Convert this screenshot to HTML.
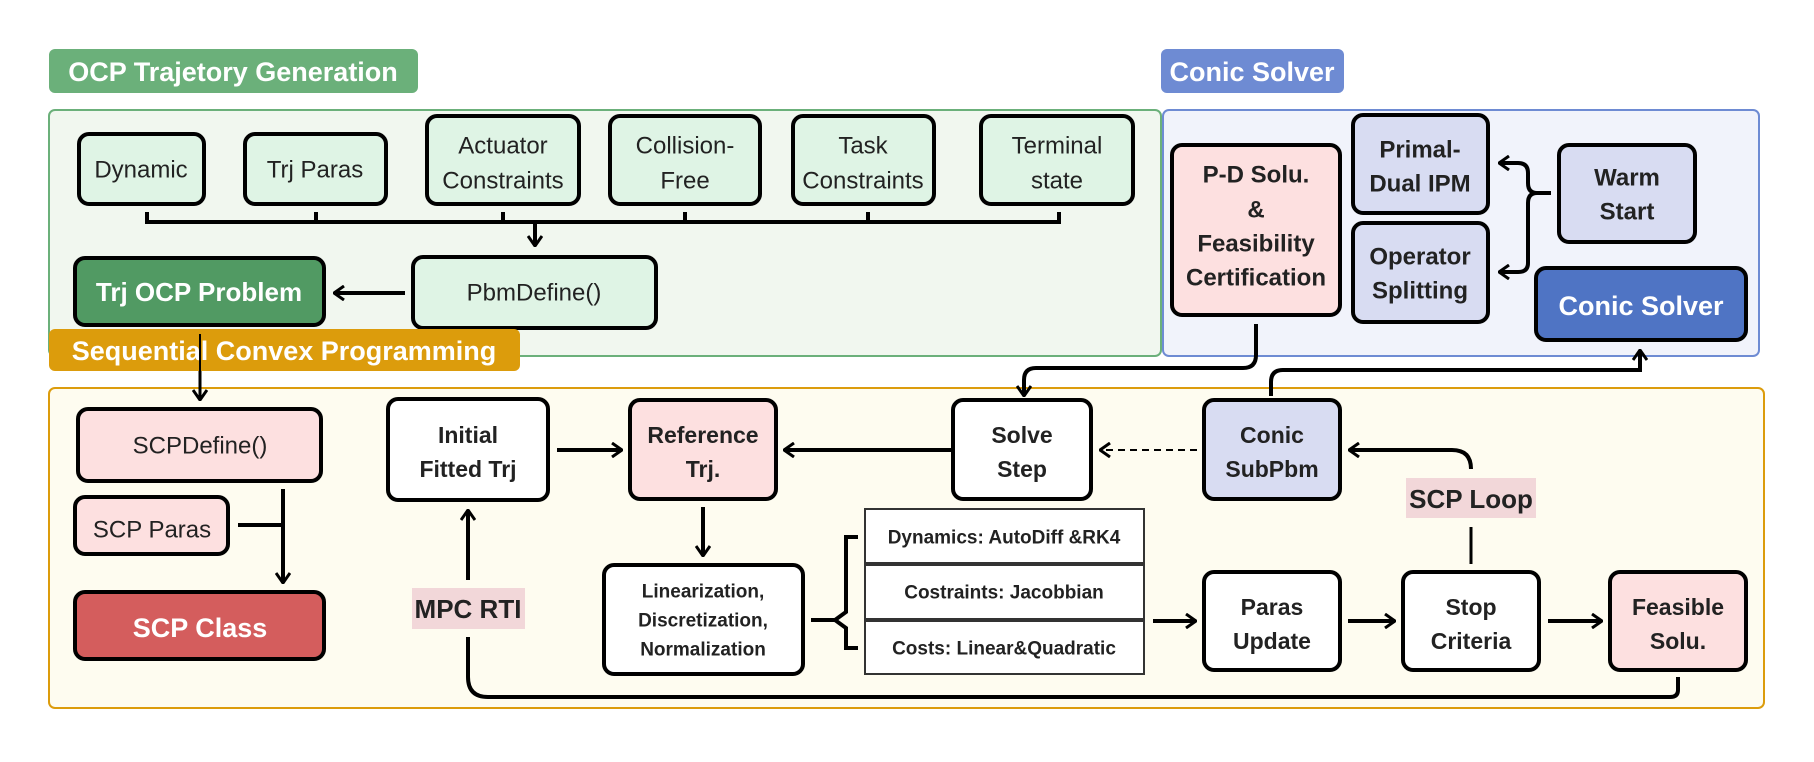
<!DOCTYPE html>
<html><head><meta charset="utf-8"><style>
html,body{margin:0;padding:0;background:#fff}
svg{display:block}
text{font-family:"Liberation Sans Narrow","Liberation Sans",sans-serif;fill:#222;text-anchor:middle;dominant-baseline:central}
.b{font-weight:bold}
</style></head><body>
<svg width="1814" height="762" viewBox="0 0 1814 762" xmlns="http://www.w3.org/2000/svg">
<defs>
<marker id="a" viewBox="0 0 12 16" refX="11" refY="8" markerWidth="12" markerHeight="16" markerUnits="userSpaceOnUse" orient="auto"><path d="M1,1 L11,8 L1,15" fill="none" stroke="#000" stroke-width="3"/></marker>
</defs>
<!-- panels -->
<rect x="49" y="110" width="1112" height="246" rx="6" fill="#f1f7ef" stroke="#6bb07a" stroke-width="2"/>
<rect x="1163" y="110" width="596" height="246" rx="6" fill="#f1f3fb" stroke="#6e8bd3" stroke-width="2"/>
<rect x="49" y="388" width="1715" height="320" rx="6" fill="#fefcf0" stroke="#dc9c0c" stroke-width="2"/>
<!-- tags -->
<rect x="49" y="49" width="369" height="44" rx="6" fill="#6bb07a"/>
<text x="233" y="72" class="b" font-size="27" fill="#fff" style="fill:#fff">OCP Trajetory Generation</text>
<rect x="1161" y="49" width="183" height="44" rx="6" fill="#6e8bd3"/>
<text x="1252" y="72" class="b" font-size="27" style="fill:#fff">Conic Solver</text>

<g stroke="#000" stroke-width="4" fill="#dff4e5">
<rect x="79" y="134" width="125" height="70" rx="10"/>
<rect x="245" y="134" width="141" height="70" rx="10"/>
<rect x="427" y="116" width="152" height="88" rx="10"/>
<rect x="610" y="116" width="150" height="88" rx="10"/>
<rect x="793" y="116" width="141" height="88" rx="10"/>
<rect x="981" y="116" width="152" height="88" rx="10"/>
<rect x="413" y="257" width="243" height="71" rx="10"/>
<rect x="75" y="258" width="249" height="67" rx="10" fill="#519a63"/>
</g>
<g font-size="24">
<text x="141" y="170">Dynamic</text>
<text x="315" y="170">Trj Paras</text>
<text x="503" y="146">Actuator</text><text x="503" y="181">Constraints</text>
<text x="685" y="146">Collision-</text><text x="685" y="181">Free</text>
<text x="863" y="146">Task</text><text x="863" y="181">Constraints</text>
<text x="1057" y="146">Terminal</text><text x="1057" y="181">state</text>
<text x="534" y="293">PbmDefine()</text>
</g>
<text x="199" y="292" class="b" font-size="26" style="fill:#fff">Trj OCP Problem</text>
<g stroke="#000" stroke-width="4" fill="none">
<path d="M147,212 V222 H1059 V212 M316,212 V222 M503,212 V222 M685,212 V222 M868,212 V222"/>
<path d="M535,222 V246" marker-end="url(#a)"/>
<path d="M405,293 H334" marker-end="url(#a)"/>
<path d="M200,330 V400" stroke-width="3" marker-end="url(#a)"/>
</g>
<rect x="49" y="329" width="471" height="42" rx="6" fill="#dc9c0c"/>
<text x="284" y="351" class="b" font-size="27" style="fill:#fff">Sequential Convex Programming</text>
<path d="M200,334 V372" stroke="#000" stroke-width="2"/>

<!-- conic solver panel -->
<g stroke="#000" stroke-width="4">
<rect x="1172" y="145" width="168" height="170" rx="10" fill="#fde0e0"/>
<rect x="1353" y="115" width="135" height="98" rx="10" fill="#d8dcf2"/>
<rect x="1353" y="223" width="135" height="99" rx="10" fill="#d8dcf2"/>
<rect x="1559" y="145" width="136" height="97" rx="10" fill="#d8dcf2"/>
<rect x="1536" y="268" width="210" height="72" rx="10" fill="#4f74c4"/>
</g>
<g class="b" font-size="24">
<text x="1256" y="175" class="b">P-D Solu.</text>
<text x="1256" y="210" class="b">&amp;</text>
<text x="1256" y="244" class="b">Feasibility</text>
<text x="1256" y="278" class="b">Certification</text>
<text x="1420" y="150" class="b">Primal-</text><text x="1420" y="184" class="b">Dual IPM</text>
<text x="1420" y="257" class="b">Operator</text><text x="1420" y="291" class="b">Splitting</text>
<text x="1627" y="178" class="b">Warm</text><text x="1627" y="212" class="b">Start</text>
</g>
<text x="1641" y="306" class="b" font-size="27" style="fill:#fff">Conic Solver</text>
<g stroke="#000" stroke-width="4" fill="none">
<path d="M1551,193 H1537 Q1528,193 1528,203 V263 Q1528,272 1518,272 H1499" marker-end="url(#a)"/>
<path d="M1537,193 Q1528,193 1528,183 V173 Q1528,163 1518,163 H1499" marker-end="url(#a)"/>
<path d="M1256,324 V355 Q1256,368 1243,368 H1036 Q1024,368 1024,380 V396" marker-end="url(#a)"/>
<path d="M1271,396 V382 Q1271,370 1283,370 H1640 V350" marker-end="url(#a)"/>
</g>

<!-- SCP panel -->
<g stroke="#000" stroke-width="4">
<rect x="78" y="409" width="243" height="72" rx="10" fill="#fde0e0"/>
<rect x="75" y="497" width="153" height="57" rx="10" fill="#fde0e0"/>
<rect x="75" y="592" width="249" height="67" rx="10" fill="#d45d5d"/>
<rect x="388" y="399" width="160" height="101" rx="10" fill="#fff"/>
<rect x="630" y="400" width="146" height="99" rx="10" fill="#fde0e0"/>
<rect x="604" y="565" width="199" height="109" rx="10" fill="#fff"/>
<rect x="953" y="400" width="138" height="99" rx="10" fill="#fff"/>
<rect x="1204" y="400" width="136" height="99" rx="10" fill="#d8dcf2"/>
<rect x="1204" y="572" width="136" height="98" rx="10" fill="#fff"/>
<rect x="1403" y="572" width="136" height="98" rx="10" fill="#fff"/>
<rect x="1610" y="572" width="136" height="98" rx="10" fill="#fde0e0"/>
</g>
<g stroke="#333" stroke-width="2" fill="#fff">
<rect x="865" y="509" width="279" height="54"/>
<rect x="865" y="565" width="279" height="54"/>
<rect x="865" y="621" width="279" height="53"/>
</g>
<g font-size="24">
<text x="200" y="446">SCPDefine()</text>
<text x="152" y="530">SCP Paras</text>
</g>
<text x="200" y="628" class="b" font-size="27" style="fill:#fff">SCP Class</text>
<g class="b" font-size="23">
<text x="468" y="435" class="b">Initial</text><text x="468" y="469" class="b">Fitted Trj</text>
<text x="703" y="435" class="b">Reference</text><text x="703" y="469" class="b">Trj.</text>
<text x="1022" y="435" class="b">Solve</text><text x="1022" y="469" class="b">Step</text>
<text x="1272" y="435" class="b">Conic</text><text x="1272" y="469" class="b">SubPbm</text>
<text x="1272" y="607" class="b">Paras</text><text x="1272" y="641" class="b">Update</text>
<text x="1471" y="607" class="b">Stop</text><text x="1471" y="641" class="b">Criteria</text>
<text x="1678" y="607" class="b">Feasible</text><text x="1678" y="641" class="b">Solu.</text>
</g>
<g class="b" font-size="19">
<text x="703" y="592" class="b">Linearization,</text>
<text x="703" y="621" class="b">Discretization,</text>
<text x="703" y="650" class="b">Normalization</text>
<text x="1004" y="538" class="b">Dynamics: AutoDiff &amp;RK4</text>
<text x="1004" y="593" class="b">Costraints: Jacobbian</text>
<text x="1004" y="649" class="b">Costs: Linear&amp;Quadratic</text>
</g>
<g stroke="#000" stroke-width="4" fill="none">
<path d="M238,525 H283 M283,489 V583" marker-end="url(#a)"/>
<path d="M557,450 H622" marker-end="url(#a)"/>
<path d="M953,450 H784" marker-end="url(#a)"/>
<path d="M703,507 V556" marker-end="url(#a)"/>
<path d="M1197,450 H1100" stroke-width="2" stroke-dasharray="7,5" marker-end="url(#a)"/>
<path d="M858,537 H846 V612 L835,620 L846,628 V648 H858"/>
<path d="M811,620 H835"/>
<path d="M1153,621 H1196" marker-end="url(#a)"/>
<path d="M1348,621 H1395" marker-end="url(#a)"/>
<path d="M1548,621 H1602" marker-end="url(#a)"/>
<path d="M1471,469 Q1471,450 1452,450 H1349" marker-end="url(#a)"/>
<path d="M1471,527 V564" stroke-width="3"/>
<path d="M1678,677 V690 Q1678,697 1670,697 H488 Q468,697 468,677 V637"/>
<path d="M468,580 V510" marker-end="url(#a)"/>
</g>
<rect x="412" y="588" width="113" height="41" fill="#f2d7d9"/>
<text x="468" y="609" class="b" font-size="26">MPC RTI</text>
<rect x="1406" y="478" width="130" height="40" fill="#f2d7d9"/>
<text x="1471" y="499" class="b" font-size="26">SCP Loop</text>
</svg>
</body></html>
